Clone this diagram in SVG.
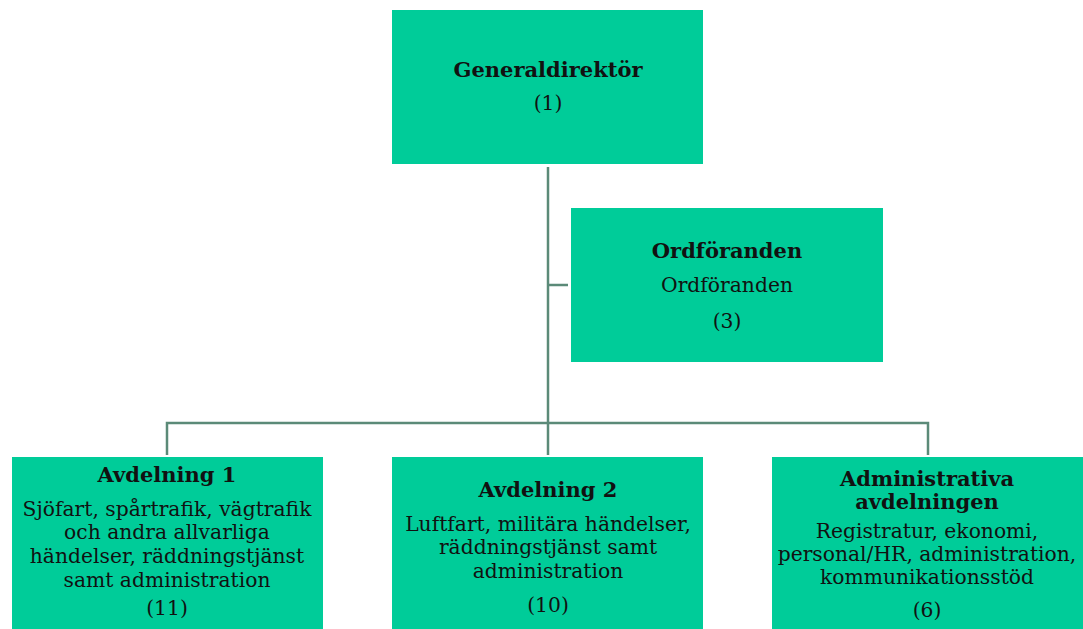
<svg xmlns="http://www.w3.org/2000/svg" width="1083" height="629" viewBox="0 0 1083 629">
<style>
.box{fill:#00cc99;}
.t{font-family:"DejaVu Serif","Liberation Serif",serif;font-size:20.3px;fill:#111;text-anchor:middle;}
.b{font-weight:bold;font-size:21px;}
.c{fill:none;stroke:#5b8a78;stroke-width:2.5;}
</style>
<rect width="1083" height="629" fill="#fff"/>
<g id="connectors">
<path class="c" d="M548 167V455"/>
<path class="c" d="M548 285H568"/>
<path class="c" d="M167 455V423H928V455"/>
</g>
<g id="generaldirektor">
<rect class="box" x="392" y="10" width="311" height="154"/>
<text class="t b" x="548" y="77">Generaldirektör</text>
<text class="t" x="548" y="110">(1)</text>
</g>
<g id="ordforanden">
<rect class="box" x="571" y="208" width="312" height="154"/>
<text class="t b" x="727" y="258">Ordföranden</text>
<text class="t" x="727" y="292">Ordföranden</text>
<text class="t" x="727" y="328">(3)</text>
</g>
<g id="avdelning1">
<rect class="box" x="12" y="457" width="311" height="172"/>
<text class="t b" x="167" y="482">Avdelning 1</text>
<text class="t" x="167" y="516">Sjöfart, spårtrafik, vägtrafik</text>
<text class="t" x="167" y="539">och andra allvarliga</text>
<text class="t" x="167" y="563">händelser, räddningstjänst</text>
<text class="t" x="167" y="587">samt administration</text>
<text class="t" x="167" y="615">(11)</text>
</g>
<g id="avdelning2">
<rect class="box" x="392" y="457" width="311" height="172"/>
<text class="t b" x="548" y="497">Avdelning 2</text>
<text class="t" x="548" y="531">Luftfart, militära händelser,</text>
<text class="t" x="548" y="554">räddningstjänst samt</text>
<text class="t" x="548" y="578">administration</text>
<text class="t" x="548" y="612">(10)</text>
</g>
<g id="administrativa">
<rect class="box" x="772" y="457" width="311" height="172"/>
<text class="t b" x="927" y="486">Administrativa</text>
<text class="t b" x="927" y="509">avdelningen</text>
<text class="t" x="927" y="538">Registratur, ekonomi,</text>
<text class="t" x="927" y="561">personal/HR, administration,</text>
<text class="t" x="927" y="584">kommunikationsstöd</text>
<text class="t" x="927" y="617">(6)</text>
</g>
</svg>
